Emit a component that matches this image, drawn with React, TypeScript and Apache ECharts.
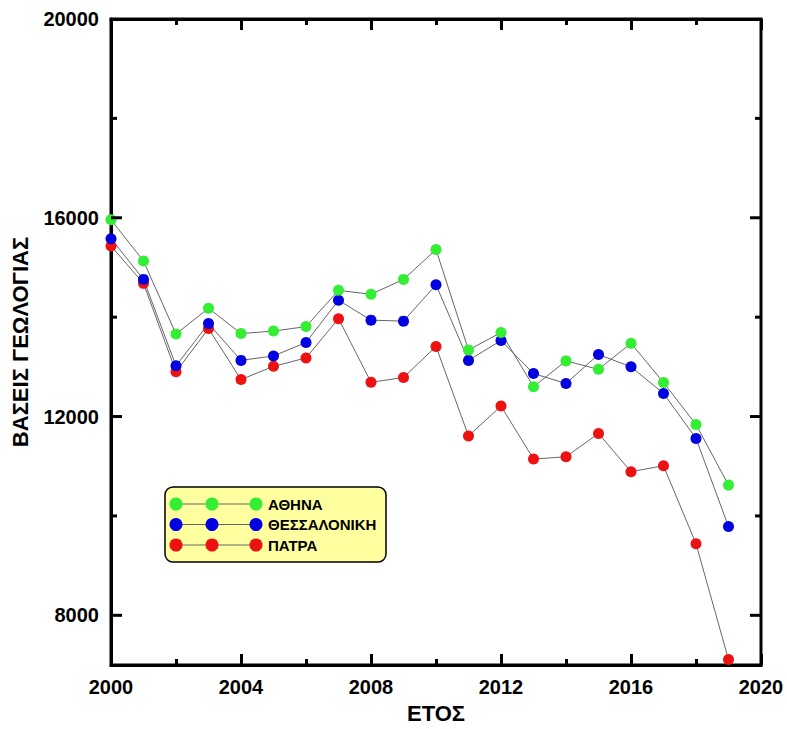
import React, { useEffect, useRef } from "react";
import * as echarts from "echarts";

const years = [2000, 2001, 2002, 2003, 2004, 2005, 2006, 2007, 2008, 2009, 2010, 2011, 2012, 2013, 2014, 2015, 2016, 2017, 2018, 2019];
const athina = [15960, 15130, 13660, 14180, 13670, 13720, 13810, 14540, 14460, 14760, 15360, 13340, 13690, 12600, 13120, 12950, 13475, 12685, 11840, 10620];
const thessaloniki = [15580, 14760, 13020, 13870, 13130, 13220, 13490, 14340, 13940, 13920, 14650, 13130, 13530, 12865, 12665, 13250, 13000, 12465, 11560, 9785];
const patra = [15430, 14680, 12900, 13770, 12745, 13010, 13180, 13970, 12690, 12785, 13410, 11610, 12210, 11145, 11190, 11660, 10890, 11010, 9440, 7110];
const yTickValues = [8000, 10000, 12000, 14000, 16000, 18000];
const legendNames = ["ΑΘΗΝΑ", "ΘΕΣΣΑΛΟΝΙΚΗ", "ΠΑΤΡΑ"];

const GREEN = "#33EE33";
const BLUE = "#0000E0";
const RED = "#EE1111";
const FONT = "'Liberation Sans', Arial, sans-serif";

export default function App() {
  const ref = useRef<HTMLDivElement>(null);
  useEffect(() => {
    if (!ref.current) return;
    const chart = echarts.init(ref.current, null, { renderer: "svg" });
    const mk = (vals: number[], color: string, name: string) => ({
      type: "line",
      name,
      data: years.map((y, i) => [y, vals[i]]),
      symbol: "circle",
      symbolSize: 11,
      showSymbol: true,
      lineStyle: { color: "#666", width: 1 },
      itemStyle: { color },
    });
    const axisCommon = {
      type: "value",
      min: 2000,
      max: 2020,
      interval: 4,
      axisLine: { show: true, lineStyle: { color: "#000", width: 3 } },
      axisTick: { show: true, inside: true, length: 11, lineStyle: { color: "#000", width: 3 } },
      minorTick: { show: true, splitNumber: 2, length: 6, lineStyle: { color: "#000", width: 3 } },
      splitLine: { show: false },
      minorSplitLine: { show: false },
    };
    const legendRows = [
      { color: GREEN, name: legendNames[0], y: 504 },
      { color: BLUE, name: legendNames[1], y: 524.5 },
      { color: RED, name: legendNames[2], y: 545 },
    ];
    const legendChildren: any[] = [
      {
        type: "rect",
        shape: { x: 165, y: 487, width: 221, height: 75, r: 8 },
        style: { fill: "#FFFFA0", stroke: "#000", lineWidth: 1.5 },
      },
    ];
    legendRows.forEach((r) => {
      legendChildren.push({
        type: "line",
        shape: { x1: 176, y1: r.y, x2: 256, y2: r.y },
        style: { stroke: "#666", lineWidth: 1 },
      });
      [176, 212, 256].forEach((cx) => {
        legendChildren.push({
          type: "circle",
          shape: { cx, cy: r.y, r: 6.5 },
          style: { fill: r.color },
        });
      });
      legendChildren.push({
        type: "text",
        x: 268,
        y: r.y,
        style: {
          text: r.name,
          fill: "#000",
          font: `bold 15px ${FONT}`,
          verticalAlign: "middle",
          align: "left",
        },
      });
    });

    chart.setOption({
      animation: false,
      backgroundColor: "#fff",
      grid: {
        left: 111,
        right: 26,
        top: 19,
        bottom: 62,
        show: true,
        borderColor: "#000",
        borderWidth: 3,
        backgroundColor: "transparent",
      },
      xAxis: [
        {
          ...axisCommon,
          position: "bottom",
          name: "ΕΤΟΣ",
          nameLocation: "middle",
          nameGap: 37,
          nameTextStyle: { fontFamily: FONT, fontWeight: "bold", fontSize: 22, color: "#000" },
          axisLabel: {
            show: true,
            margin: 12,
            fontFamily: FONT,
            fontWeight: "bold",
            fontSize: 20,
            color: "#000",
            formatter: (v: number) => String(v),
          },
        },
        {
          ...axisCommon,
          position: "top",
          axisLabel: { show: false },
        },
      ],
      yAxis: {
        type: "value",
        min: 7000,
        max: 20000,
        interval: 1000,
        name: "ΒΑΣΕΙΣ ΓΕΩΛΟΓΙΑΣ",
        nameLocation: "middle",
        nameGap: 80,
        nameTextStyle: { fontFamily: FONT, fontWeight: "bold", fontSize: 22, color: "#000" },
        axisLine: { show: true, lineStyle: { color: "#000", width: 3 } },
        axisTick: { show: false },
        splitLine: { show: false },
        axisLabel: {
          margin: 12,
          fontFamily: FONT,
          fontWeight: "bold",
          fontSize: 20,
          color: "#000",
          formatter: (v: number) => (v % 4000 === 0 ? String(v) : ""),
        },
      },
      graphic: [{ type: "group", children: legendChildren, z: 100 }],
      series: [
        {
          type: "custom",
          silent: true,
          z: 10,
          clip: false,
          data: yTickValues.map((v) => [2000, v]),
          renderItem: (params: any, api: any) => {
            const v = api.value(1);
            const p = api.coord([2000, v]);
            const q = api.coord([2020, v]);
            const len = v % 4000 === 0 ? 11 : 6;
            return {
              type: "group",
              children: [
                { type: "line", shape: { x1: p[0], y1: p[1], x2: p[0] + len, y2: p[1] }, style: { stroke: "#000", lineWidth: 3 } },
                { type: "line", shape: { x1: q[0] - len, y1: q[1], x2: q[0], y2: q[1] }, style: { stroke: "#000", lineWidth: 3 } },
              ],
            };
          },
        },
        mk(patra, RED, legendNames[2]),
        mk(thessaloniki, BLUE, legendNames[1]),
        mk(athina, GREEN, legendNames[0]),
      ],
    });
    return () => chart.dispose();
  }, []);
  return (
    <div
      ref={ref}
      style={{ position: "fixed", left: 0, top: 0, width: 787, height: 729, background: "#fff" }}
    />
  );
}
